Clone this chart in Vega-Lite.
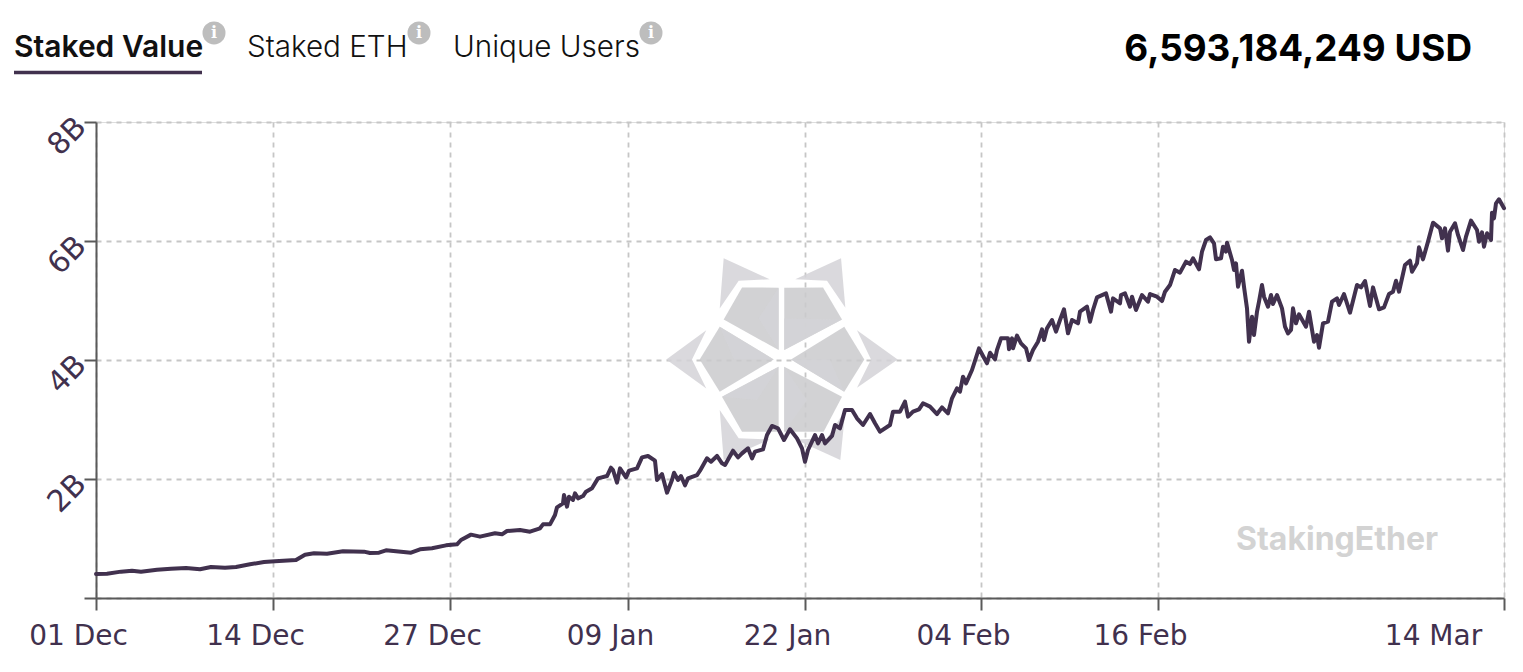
{"$schema":"https://vega.github.io/schema/vega-lite/v6.json","width":1408,"height":476,"autosize":"none","padding":{"left":96,"top":122,"right":19,"bottom":74},"background":"white","encoding":{"x":{"field":"i","type":"quantitative","title":null,"scale":{"domain":[0,1408],"nice":false,"zero":false},"axis":{"values":[0,177,354,532,709,885,1062,1408],"labelExpr":"{'0':'01 Dec','177':'14 Dec','354':'27 Dec','532':'09 Jan','709':'22 Jan','885':'04 Feb','1062':'16 Feb','1408':'14 Mar'}[datum.value]","labelOffset":{"condition":{"test":"datum.value > 1100","value":-71},"value":-18},"labelFont":"DejaVu Sans","labelFontSize":28,"labelColor":"#41314e","labelPadding":12,"labelFlush":false,"labelOverlap":false,"labelBound":false,"tickSize":12,"tickColor":"#5a5a5a","tickWidth":2,"domainColor":"#5a5a5a","domainWidth":2,"grid":true,"gridColor":"#c6c6c6","gridDash":[5,5],"gridWidth":1.8}},"y":{"field":"v","type":"quantitative","title":null,"scale":{"domain":[0,8],"nice":false,"zero":false},"axis":{"values":[0,2,4,6,8],"labelExpr":"datum.value === 0 ? '' : datum.value + 'B'","labelFont":"DejaVu Sans","labelFontSize":30,"labelColor":"#41314e","labelAngle":-45,"labelPadding":3,"labelFlush":false,"labelOverlap":false,"labelBound":false,"tickSize":12,"tickColor":"#5a5a5a","tickWidth":2,"domainColor":"#5a5a5a","domainWidth":2,"grid":true,"gridColor":"#c6c6c6","gridDash":[5,5],"gridWidth":1.8}}},"layer":[{"data":{"values":[{"part":"tl-o","i":686,"v":4.01},{"part":"tr-o","i":686,"v":4.01},{"part":"l-o","i":686,"v":4.01},{"part":"r-o","i":686,"v":4.01},{"part":"bl-o","i":686,"v":4.01},{"part":"br-o","i":686,"v":4.01},{"part":"tl","i":686,"v":4.01},{"part":"tr","i":686,"v":4.01},{"part":"l","i":686,"v":4.01},{"part":"r","i":686,"v":4.01},{"part":"bl","i":686,"v":4.01},{"part":"br","i":686,"v":4.01},{"part":"tl-f","i":686,"v":4.01},{"part":"tr-f","i":686,"v":4.01},{"part":"l-f","i":686,"v":4.01},{"part":"r-f","i":686,"v":4.01},{"part":"bl-f","i":686,"v":4.01},{"part":"br-f","i":686,"v":4.01}]},"mark":{"type":"point","filled":true,"opacity":0.85},"encoding":{"size":{"value":57600},"shape":{"field":"part","type":"nominal","legend":null,"scale":{"domain":["tl-o","tr-o","l-o","r-o","bl-o","br-o","tl","tr","l","r","bl","br","tl-f","tr-f","l-f","r-f","bl-f","br-f"],"range":["M-.486-.842L-.103-.667-.361-.656-.519-.425Z","M.492-.842L.111-.667.375-.656.528-.431Z","M-.964 0L-.631-.244-.75 0-.631.242Z","M.964 0L.625-.244.742 0 .625.236Z","M-.486.839L-.103.667-.361.656-.519.422Z","M.486.839L.111.667.375.656.528.422Z","M-.333-.6L-.028-.597-.028-.078-.486-.333Z","M.019-.597L.342-.6.5-.333.019-.078Z","M-.519-.272L-.069 0-.519.269-.686 0Z","M.519-.272L.686 0 .519.269.075 0Z","M-.028.061L-.028.603-.333.603-.5.311Z","M.019.061L.5.311.347.603.019.603Z","M-.194-.342L-.028-.597-.028-.078Z","M.019-.34L.5-.333.019-.078Z","M-.519-.272L-.069 0-.4 0Z","M.075 0L.4 0 .519.269Z","M-.028.061L-.208.339-.5.311Z","M.019.061L.208.339.019.603Z"]}},"color":{"field":"part","type":"nominal","legend":null,"scale":{"domain":["tl-o","tr-o","l-o","r-o","bl-o","br-o","tl","tr","l","r","bl","br","tl-f","tr-f","l-f","r-f","bl-f","br-f"],"range":["#d3d2d7","#d3d2d7","#d3d2d7","#d3d2d7","#d3d2d7","#d3d2d7","#cacacc","#cacacc","#cacacc","#cacacc","#cacacc","#cacacc","#d3d3d7","#d3d3d7","#d3d3d7","#d3d3d7","#d3d3d7","#d3d3d7"]}}}},{"data":{"values":[{"i":0,"v":0.403},{"i":11,"v":0.409},{"i":25,"v":0.443},{"i":36,"v":0.459},{"i":45,"v":0.443},{"i":61,"v":0.476},{"i":75,"v":0.493},{"i":90,"v":0.504},{"i":104,"v":0.482},{"i":115,"v":0.521},{"i":129,"v":0.51},{"i":140,"v":0.521},{"i":154,"v":0.566},{"i":168,"v":0.605},{"i":179,"v":0.616},{"i":200,"v":0.639},{"i":209,"v":0.728},{"i":218,"v":0.751},{"i":231,"v":0.745},{"i":247,"v":0.784},{"i":268,"v":0.779},{"i":274,"v":0.756},{"i":283,"v":0.762},{"i":290,"v":0.801},{"i":300,"v":0.784},{"i":315,"v":0.762},{"i":324,"v":0.818},{"i":336,"v":0.835},{"i":350,"v":0.885},{"i":361,"v":0.902},{"i":365,"v":0.975},{"i":375,"v":1.065},{"i":384,"v":1.031},{"i":399,"v":1.087},{"i":406,"v":1.07},{"i":411,"v":1.126},{"i":424,"v":1.143},{"i":434,"v":1.115},{"i":444,"v":1.171},{"i":447,"v":1.238},{"i":454,"v":1.238},{"i":459,"v":1.395},{"i":461,"v":1.524},{"i":467,"v":1.591},{"i":468,"v":1.731},{"i":471,"v":1.535},{"i":473,"v":1.703},{"i":477,"v":1.647},{"i":479,"v":1.759},{"i":482,"v":1.675},{"i":487,"v":1.714},{"i":490,"v":1.787},{"i":496,"v":1.843},{"i":502,"v":2.011},{"i":511,"v":2.05},{"i":515,"v":2.19},{"i":517,"v":2.151},{"i":521,"v":1.938},{"i":524,"v":2.179},{"i":530,"v":2.028},{"i":533,"v":2.14},{"i":541,"v":2.179},{"i":546,"v":2.364},{"i":552,"v":2.387},{"i":559,"v":2.308},{"i":561,"v":1.983},{"i":566,"v":2.084},{"i":571,"v":1.77},{"i":576,"v":1.983},{"i":578,"v":2.106},{"i":582,"v":1.983},{"i":585,"v":2.05},{"i":589,"v":1.894},{"i":592,"v":2.011},{"i":601,"v":2.067},{"i":604,"v":2.14},{"i":611,"v":2.347},{"i":615,"v":2.291},{"i":621,"v":2.387},{"i":626,"v":2.263},{"i":629,"v":2.235},{"i":637,"v":2.476},{"i":642,"v":2.364},{"i":646,"v":2.431},{"i":652,"v":2.515},{"i":656,"v":2.347},{"i":659,"v":2.459},{"i":667,"v":2.498},{"i":671,"v":2.739},{"i":676,"v":2.891},{"i":682,"v":2.852},{"i":688,"v":2.655},{"i":694,"v":2.835},{"i":701,"v":2.683},{"i":706,"v":2.515},{"i":709,"v":2.291},{"i":712,"v":2.487},{"i":719,"v":2.739},{"i":722,"v":2.599},{"i":726,"v":2.739},{"i":729,"v":2.599},{"i":736,"v":2.723},{"i":739,"v":2.908},{"i":744,"v":2.852},{"i":749,"v":3.16},{"i":756,"v":3.16},{"i":761,"v":3.02},{"i":767,"v":2.908},{"i":774,"v":3.092},{"i":779,"v":2.936},{"i":784,"v":2.795},{"i":794,"v":2.908},{"i":797,"v":3.132},{"i":804,"v":3.132},{"i":809,"v":3.3},{"i":812,"v":3.048},{"i":817,"v":3.132},{"i":823,"v":3.171},{"i":827,"v":3.272},{"i":834,"v":3.216},{"i":841,"v":3.092},{"i":846,"v":3.204},{"i":852,"v":3.104},{"i":856,"v":3.356},{"i":861,"v":3.524},{"i":864,"v":3.468},{"i":867,"v":3.72},{"i":870,"v":3.608},{"i":876,"v":3.832},{"i":883,"v":4.196},{"i":887,"v":4.067},{"i":891,"v":3.944},{"i":894,"v":4.123},{"i":899,"v":4.011},{"i":901,"v":4.168},{"i":905,"v":4.364},{"i":912,"v":4.364},{"i":913,"v":4.179},{"i":916,"v":4.364},{"i":917,"v":4.196},{"i":921,"v":4.409},{"i":925,"v":4.28},{"i":930,"v":4.196},{"i":933,"v":4},{"i":937,"v":4.168},{"i":942,"v":4.308},{"i":946,"v":4.515},{"i":948,"v":4.336},{"i":951,"v":4.532},{"i":956,"v":4.672},{"i":960,"v":4.476},{"i":964,"v":4.672},{"i":968,"v":4.852},{"i":972,"v":4.448},{"i":976,"v":4.672},{"i":982,"v":4.616},{"i":984,"v":4.812},{"i":991,"v":4.896},{"i":994,"v":4.644},{"i":997,"v":4.84},{"i":1001,"v":5.053},{"i":1010,"v":5.12},{"i":1015,"v":4.812},{"i":1017,"v":5.036},{"i":1024,"v":4.952},{"i":1025,"v":5.092},{"i":1029,"v":5.12},{"i":1034,"v":4.896},{"i":1036,"v":5.064},{"i":1040,"v":4.84},{"i":1046,"v":5.092},{"i":1052,"v":4.98},{"i":1054,"v":5.109},{"i":1061,"v":5.064},{"i":1066,"v":4.991},{"i":1069,"v":5.148},{"i":1074,"v":5.26},{"i":1079,"v":5.513},{"i":1084,"v":5.468},{"i":1090,"v":5.653},{"i":1094,"v":5.613},{"i":1097,"v":5.709},{"i":1103,"v":5.524},{"i":1106,"v":5.821},{"i":1110,"v":6.017},{"i":1114,"v":6.062},{"i":1118,"v":5.961},{"i":1120,"v":5.692},{"i":1125,"v":5.709},{"i":1127,"v":5.905},{"i":1130,"v":5.821},{"i":1131,"v":5.972},{"i":1136,"v":5.681},{"i":1138,"v":5.513},{"i":1140,"v":5.625},{"i":1142,"v":5.232},{"i":1146,"v":5.501},{"i":1148,"v":5.232},{"i":1151,"v":4.868},{"i":1153,"v":4.308},{"i":1156,"v":4.728},{"i":1158,"v":4.42},{"i":1161,"v":4.812},{"i":1163,"v":4.98},{"i":1166,"v":5.261},{"i":1168,"v":5.064},{"i":1172,"v":4.896},{"i":1175,"v":5.092},{"i":1177,"v":4.941},{"i":1181,"v":5.092},{"i":1186,"v":4.868},{"i":1189,"v":4.56},{"i":1192,"v":4.448},{"i":1195,"v":4.504},{"i":1197,"v":4.868},{"i":1200,"v":4.616},{"i":1203,"v":4.768},{"i":1210,"v":4.56},{"i":1213,"v":4.812},{"i":1218,"v":4.308},{"i":1221,"v":4.42},{"i":1223,"v":4.207},{"i":1227,"v":4.616},{"i":1232,"v":4.644},{"i":1236,"v":4.98},{"i":1241,"v":5.036},{"i":1243,"v":4.924},{"i":1248,"v":5.109},{"i":1254,"v":4.795},{"i":1261,"v":5.261},{"i":1265,"v":5.221},{"i":1269,"v":5.328},{"i":1274,"v":4.908},{"i":1277,"v":5.221},{"i":1283,"v":4.852},{"i":1288,"v":4.885},{"i":1293,"v":5.109},{"i":1297,"v":5.148},{"i":1300,"v":5.333},{"i":1303,"v":5.148},{"i":1309,"v":5.597},{"i":1314,"v":5.669},{"i":1316,"v":5.484},{"i":1321,"v":5.625},{"i":1323,"v":5.894},{"i":1327,"v":5.692},{"i":1332,"v":5.989},{"i":1337,"v":6.308},{"i":1344,"v":6.213},{"i":1346,"v":6.045},{"i":1349,"v":6.213},{"i":1352,"v":5.838},{"i":1354,"v":6.157},{"i":1359,"v":6.297},{"i":1362,"v":6.101},{"i":1367,"v":5.849},{"i":1370,"v":6.073},{"i":1375,"v":6.342},{"i":1381,"v":6.185},{"i":1383,"v":5.989},{"i":1386,"v":6.146},{"i":1388,"v":5.905},{"i":1391,"v":6.129},{"i":1395,"v":6.017},{"i":1396,"v":6.476},{"i":1398,"v":6.381},{"i":1400,"v":6.633},{"i":1403,"v":6.701},{"i":1408,"v":6.55}]},"mark":{"type":"line","color":"#41314e","strokeWidth":4,"strokeJoin":"round","strokeCap":"round","clip":false},"encoding":{}},{"data":{"values":[{"label":"StakingEther","i":1241,"v":0.975}]},"mark":{"type":"text","font":"Inter","fontWeight":700,"fontSize":32,"color":"#d3d3d3","align":"center","baseline":"middle"},"encoding":{"text":{"field":"label"}}},{"data":{"values":[{"label":"Staked Value","i":-82,"v":9.244}]},"mark":{"type":"text","font":"Inter","fontWeight":600,"fontSize":30,"color":"#111111","align":"left","baseline":"middle"},"encoding":{"text":{"field":"label"}}},{"data":{"values":[{"label":"Staked ETH","i":151,"v":9.244},{"label":"Unique Users","i":357,"v":9.244}]},"mark":{"type":"text","font":"Inter","fontWeight":300,"fontSize":29.6,"color":"#111111","align":"left","baseline":"middle"},"encoding":{"text":{"field":"label"}}},{"data":{"values":[{"label":"6,593,184,249 USD","i":1376,"v":9.21}]},"mark":{"type":"text","font":"Inter","fontWeight":700,"fontSize":36.8,"color":"#000000","align":"right","baseline":"middle"},"encoding":{"text":{"field":"label"}}},{"data":{"values":[{"i":-82,"i2":106,"v":8.832}]},"mark":{"type":"rule","color":"#41314e","strokeWidth":3.5},"encoding":{"x2":{"field":"i2"}}},{"data":{"values":[{"i":118,"v":9.496},{"i":323,"v":9.496},{"i":555,"v":9.496}]},"mark":{"type":"point","filled":true,"shape":"circle","size":529,"color":"#bdbdbd","opacity":1},"encoding":{}},{"data":{"values":[{"mark":"i","i":118,"v":9.496},{"mark":"i","i":323,"v":9.496},{"mark":"i","i":555,"v":9.496}]},"mark":{"type":"text","font":"DejaVu Serif","fontWeight":700,"fontSize":16,"color":"#ffffff","align":"center","baseline":"middle"},"encoding":{"text":{"field":"mark"}}}]}
